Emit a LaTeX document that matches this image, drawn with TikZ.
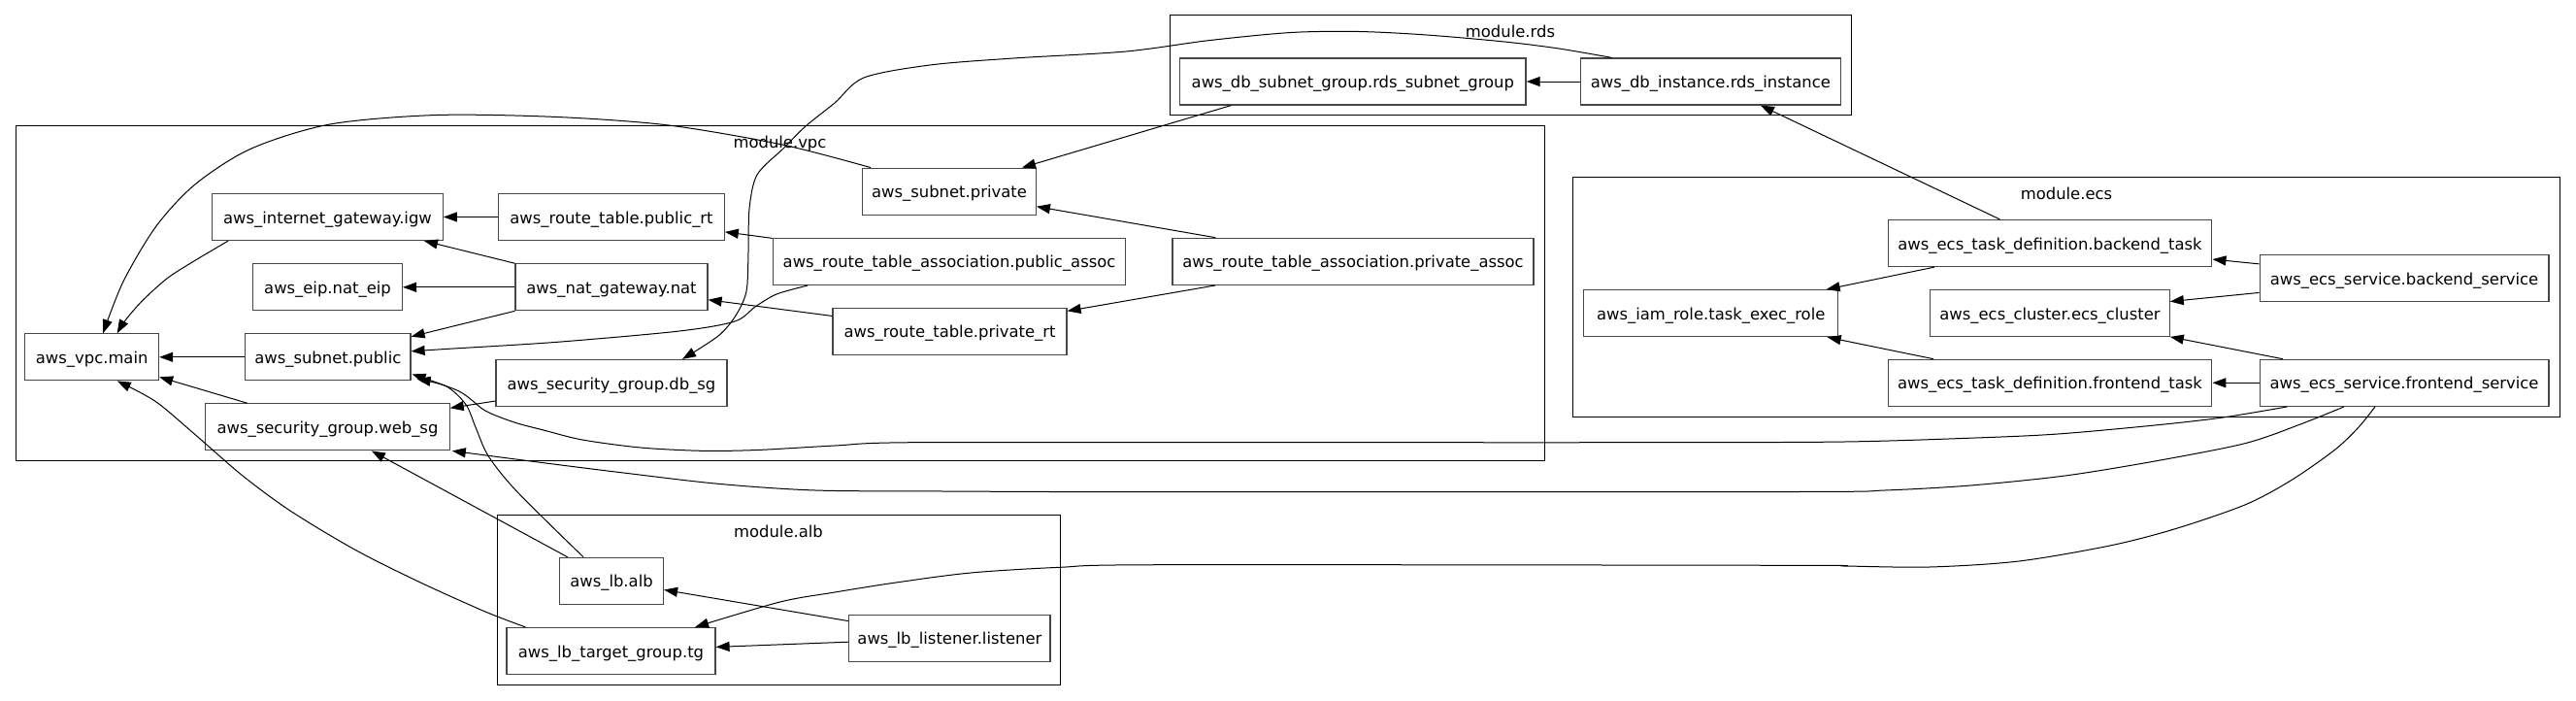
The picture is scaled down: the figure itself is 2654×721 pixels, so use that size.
\documentclass[tikz,border=0pt]{standalone}
\usepackage{fontspec}
\setmainfont{DejaVu Sans}
\usetikzlibrary{arrows.meta,calc}
\newcommand\nf{\fontsize{16.4}{20}\selectfont}
\tikzset{
  nodebox/.style={draw=black!72, line width=1.2pt, minimum height=48pt, inner sep=0pt,
    text height=13pt, text depth=0pt, font=\nf},
  cluster/.style={draw=black, line width=1pt},
  clabel/.style={anchor=base, inner sep=0pt, font=\nf},
  edge/.style={draw=black, line width=1pt, -{Triangle[length=14pt,width=10pt]}},
}
\begin{document}
\begin{tikzpicture}[x=1pt,y=-1pt]
\useasboundingbox (0,0) rectangle (2654,721);
% clusters
\draw[cluster] (16,129.3) rectangle (1591,474);
\node[clabel] (lvpc) at (803.5,152.3) {module.vpc};
\draw[cluster] (1205,15.7) rectangle (1907,118.5);
\node[clabel] (lrds) at (1556,38.9) {module.rds};
\draw[cluster] (1620.4,182.7) rectangle (2637.8,429.3);
\node[clabel] (lecs) at (2129,205.3) {module.ecs};
\draw[cluster] (512,530.7) rectangle (1092.3,705);
\node[clabel] (lalb) at (802,553.5) {module.alb};
% nodes
\node[nodebox, minimum width=137.8pt] (vpc) at (94.7,367.8) {aws\_vpc.main};
\node[nodebox, minimum width=237.6pt] (igw) at (337.5,223.5) {aws\_internet\_gateway.igw};
\node[nodebox, minimum width=232.5pt] (prt) at (630,223.5) {aws\_route\_table.public\_rt};
\node[nodebox, minimum width=153.8pt] (eip) at (337.5,295.8) {aws\_eip.nat\_eip};
\node[nodebox, minimum width=198pt] (nat) at (630,295.8) {aws\_nat\_gateway.nat};
\node[nodebox, minimum width=170.4pt] (spub) at (337.8,367.8) {aws\_subnet.public};
\node[nodebox, minimum width=238pt] (dbsg) at (630,394.5) {aws\_security\_group.db\_sg};
\node[nodebox, minimum width=251.4pt] (websg) at (337.5,439.8) {aws\_security\_group.web\_sg};
\node[nodebox, minimum width=363.4pt] (pasc) at (978,269.4) {aws\_route\_table\_association.public\_assoc};
\node[nodebox, minimum width=178.6pt] (spriv) at (978,197.2) {aws\_subnet.private};
\node[nodebox, minimum width=241pt] (privrt) at (978.5,341.2) {aws\_route\_table.private\_rt};
\node[nodebox, minimum width=372pt] (prasc) at (1394,269.3) {aws\_route\_table\_association.private\_assoc};
\node[nodebox, minimum width=356.5pt] (rsg) at (1393.8,84) {aws\_db\_subnet\_group.rds\_subnet\_group};
\node[nodebox, minimum width=268.2pt] (rdsi) at (1762.3,84) {aws\_db\_instance.rds\_instance};
\node[nodebox, minimum width=333.7pt] (btask) at (2112,250.5) {aws\_ecs\_task\_definition.backend\_task};
\node[nodebox, minimum width=297.8pt] (bsvc) at (2477,286.7) {aws\_ecs\_service.backend\_service};
\node[nodebox, minimum width=262pt] (iam) at (1762.7,322.7) {aws\_iam\_role.task\_exec\_role};
\node[nodebox, minimum width=246.4pt] (ecsc) at (2112,322.7) {aws\_ecs\_cluster.ecs\_cluster};
\node[nodebox, minimum width=333.7pt] (ftask) at (2112,394.3) {aws\_ecs\_task\_definition.frontend\_task};
\node[nodebox, minimum width=297.8pt] (fsvc) at (2477,394.3) {aws\_ecs\_service.frontend\_service};
\node[nodebox, minimum width=107pt] (alb) at (630,598.3) {aws\_lb.alb};
\node[nodebox, minimum width=215pt] (tg) at (629.5,670.5) {aws\_lb\_target\_group.tg};
\node[nodebox, minimum width=207.3pt] (lis) at (978.4,657.2) {aws\_lb\_listener.listener};
% end points of offset / curved edges
\coordinate (c1s) at ($(igw.south west)+(17,0)$);
\coordinate (c1e) at ($(vpc.north)+(26,0)$);
\coordinate (c2s) at ($(spriv.north west)+(9,0)$);
\coordinate (c2e) at ($(vpc.north)+(11.5,0)$);
\coordinate (c5s) at ($(tg.north west)+(20,0)$);
\coordinate (c5e) at ($(vpc.south)+(26,0)$);
\coordinate (c11s) at ($(pasc.south west)+(36.5,0)$);
\coordinate (c11e) at ($(spub.east)+(0,-6)$);
\coordinate (c13s) at ($(rsg.south)+(-125.5,0)$);
\coordinate (c13e) at ($(spriv.north)+(75,0)$);
\coordinate (c16s) at ($(rdsi.north west)+(33,0)$);
\coordinate (c16e) at ($(dbsg.north)+(73,0)$);
\coordinate (c21s) at ($(alb.north)+(-29,0)$);
\coordinate (c21e) at ($(spub.south east)+(6,-2)$);
\coordinate (c22s) at ($(fsvc.south west)+(29,0)$);
\coordinate (c22e) at ($(spub.south east)+(1,-7)$);
\coordinate (c23s) at ($(fsvc.south)+(-62,0)$);
\coordinate (c23e) at ($(websg.south east)+(2,0)$);
\coordinate (c24s) at ($(fsvc.south)+(-30,0)$);
\coordinate (c24e) at ($(tg.north east)+(-21.5,0)$);
% straight edges
\draw[edge] (spub) -- (vpc);
\draw[edge] (prt) -- (igw);
\draw[edge] (nat) -- (eip);
\draw[edge] (nat) -- (igw);
\draw[edge] (nat) -- (spub);
\draw[edge] (websg) -- (vpc);
\draw[edge] (pasc) -- (prt);
\draw[edge] (privrt) -- (nat);
\draw[edge] (prasc) -- (spriv);
\draw[edge] (prasc) -- (privrt);
\draw[edge] (dbsg) -- (websg);
\draw[edge] (lis) -- (alb);
\draw[edge] (lis) -- (tg);
\draw[edge] (alb) -- (websg);
\draw[edge] (rdsi) -- (rsg);
\draw[edge] (c13s) -- (c13e);
\draw[edge] (btask) -- (rdsi);
\draw[edge] (btask) -- (iam);
\draw[edge] (ftask) -- (iam);
\draw[edge] (bsvc) -- (btask);
\draw[edge] (bsvc) -- (ecsc);
\draw[edge] (fsvc) -- (ecsc);
\draw[edge] (fsvc) -- (ftask);
% curved edges
\draw[edge] plot[smooth, tension=0.5] coordinates {(c1s) (200.9,268.3) (172.2,286.7) (146.4,310) (129.1,330) (c1e)};
\draw[edge] plot[smooth, tension=0.5] coordinates {(c2s) (806,149) (688.8,129) (574,120.5) (450,118.5) (340,128) (258.3,153.3) (200.9,190) (160.7,233.3) (127,290) (c2e)};
\draw[edge] plot[smooth, tension=0.5] coordinates {(c5s) (500,630) (433.3,600) (366.7,566.7) (300,526.7) (250,490) (200,446.7) (160,413.3) (c5e)};
\draw[edge] plot[smooth, tension=0.5] coordinates {(c11s) (800,303) (778,316) (757,331) (700,341) (574,352.3) (459,359.5) (c11e)};
\draw[edge] plot[smooth, tension=0.5] coordinates {(c16s) (1606,50) (1550,43) (1470,36) (1400,32.5) (1330,33.5) (1245,41.7) (1160,53) (1044,60) (958,67) (890,80) (860,106) (830,130) (807,153) (780,180) (772,215) (771,260) (769,300) (758,325) (740,346) (c16e)};
\draw[edge] plot[smooth, tension=0.5] coordinates {(c21s) (533,506.7) (503.3,470) (490,440) (480,416.7) (460,398) (c21e)};
\draw[edge] plot[smooth, tension=0.5] coordinates {(c22s) (2290,430) (2220,438) (2120,447) (2035,451) (1900,455) (1700,455.7) (1300,455.7) (940,455.7) (860,459) (780,463.5) (723,464.3) (660,461) (600,453) (560,443) (530,435) (500,423) (473,403) (c22e)};
\draw[edge] plot[smooth, tension=0.5] coordinates {(c23s) (2370,437) (2312.8,456.7) (2220,475) (2127.5,490) (2030,500) (1941.8,505) (1849,506.5) (1200,506.7) (973,506) (840,505) (740,498.3) (640,486.7) (560,476.7) (c23e)};
\draw[edge] plot[smooth, tension=0.5] coordinates {(c24s) (2430,440) (2405.5,463.3) (2360,495) (2312.8,520) (2240,545) (2173.7,562) (2080,578) (1988,584) (1900,583) (1849,582.3) (1200,581.7) (1092,584.3) (1000,590) (923,600) (860,610) (803.6,620) (c24e)};
\end{tikzpicture}
\end{document}
